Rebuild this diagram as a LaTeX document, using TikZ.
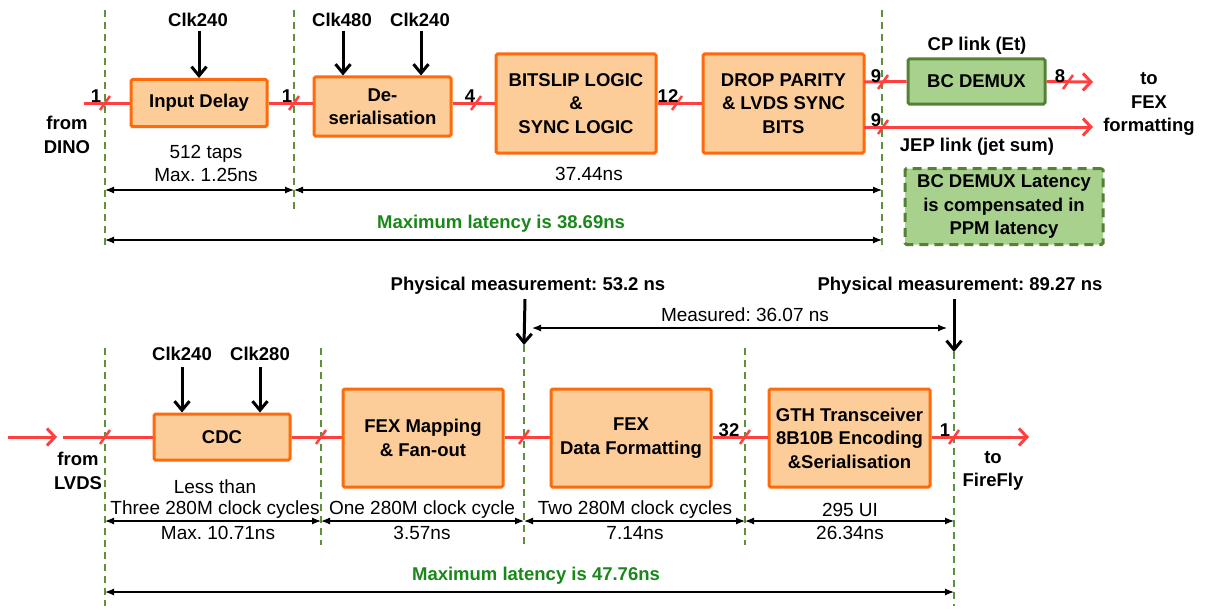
\documentclass[tikz,border=0pt]{standalone}
\usepackage{fontspec}
\setmainfont{Liberation Sans}
\usetikzlibrary{arrows.meta}
\frenchspacing
\definecolor{peach}{RGB}{252,204,153}
\definecolor{oedge}{RGB}{255,106,10}
\definecolor{gfill}{RGB}{169,209,142}
\definecolor{gedge}{RGB}{84,130,53}
\definecolor{sigred}{RGB}{255,64,64}
\definecolor{vgreen}{RGB}{95,145,60}
\definecolor{txtgreen}{RGB}{25,135,25}
\newcommand\bfs{\fontsize{18.5}{23.5}\selectfont\bfseries}
\newcommand\rfs{\fontsize{19}{23}\selectfont}
\newcommand\busmark[2]{\draw[bus] ({#1-5},{#2+7}) -- ({#1+5},{#2-7});}
\begin{document}
\begin{tikzpicture}[x=1pt,y=-1pt,
  every node/.style={inner sep=0pt},
  obox/.style={draw=oedge, fill=peach, line width=3pt, rounded corners=1.5pt, align=center, font=\bfs},
  gbox/.style={draw=gedge, fill=gfill, line width=3pt, rounded corners=1.5pt, align=center, font=\bfs},
  lbl/.style={align=center, font=\bfs},
  txt/.style={align=center, font=\rfs},
  sig/.style={draw=sigred, line width=3pt},
  sigarr/.style={sig, -{Straight Barb[length=8pt,width=17pt]}},
  clk/.style={draw=black, line width=3pt, -{Straight Barb[length=9pt,width=15pt]}},
  dim/.style={draw=black, line width=1.2pt, {Latex[length=9pt,width=7pt]}-{Latex[length=9pt,width=7pt]}},
  vline/.style={draw=vgreen, line width=2pt, dash pattern=on 7pt off 5pt},
  bus/.style={draw=sigred, line width=2.5pt},
]
\useasboundingbox (0,0) rectangle (1205,610);

% ---------- TOP ----------
\coordinate (t1a) at (105,10);  \coordinate (t1b) at (105,247);
\coordinate (t2a) at (294,10);  \coordinate (t2b) at (294,210);
\coordinate (t3a) at (882,10);  \coordinate (t3b) at (882,250);
\draw[vline] (t1a) -- (t1b);
\draw[vline] (t2a) -- (t2b);
\draw[vline] (t3a) -- (t3b);

\node[obox, minimum width=136pt, minimum height=47pt] (delay) at (199,103) {Input Delay};
\node[obox, minimum width=137pt, minimum height=59pt] (deser) at (382.5,106.5) {De-\\serialisation};
\node[obox, minimum width=160pt, minimum height=99pt] (bits) at (576,103.5) {BITSLIP LOGIC\\\&\\SYNC LOGIC};
\node[obox, minimum width=161pt, minimum height=99pt] (drop) at (783.5,103.5) {DROP PARITY\\\& LVDS SYNC\\BITS};
\node[gbox, minimum width=137pt, minimum height=45pt] (demux) at (976.5,81.5) {BC DEMUX};
\node[gbox, dash pattern=on 9pt off 6pt, minimum width=198pt, minimum height=76pt] (note) at (1004,206.5) {BC DEMUX Latency\\is compensated in\\PPM latency};

\coordinate (inT) at (84,103);
\draw[sig] (inT) -- (delay.west);
\draw[sig] (delay.east) -- (delay.east -| deser.west);
\draw[sig] (deser.east |- 0,103) -- (bits.west |- 0,103);
\draw[sig] (bits.east |- 0,103) -- (drop.west |- 0,103);
\coordinate (dropA) at (864,82);
\coordinate (dropB) at (864,127);
\coordinate (outA) at (1093,82);
\coordinate (outB) at (1093,127);
\draw[sig] (dropA) -- (demux.west);
\draw[sigarr] (demux.east) -- (outA);
\draw[sigarr] (dropB) -- (outB);
\busmark{105}{103}
\busmark{294}{103}
\busmark{476}{103}
\busmark{677}{103}
\busmark{883}{82}
\busmark{883}{127}
\busmark{1068}{82}

\node[lbl] (b1) at (96,96) {1};
\node[lbl] (b2) at (287,96) {1};
\node[lbl] (b3) at (470,96) {4};
\node[lbl] (b4) at (668,96) {12};
\node[lbl] (b5) at (876,76) {9};
\node[lbl] (b6) at (876,120) {9};
\node[lbl] (b7) at (1060,76) {8};

\node[lbl] (c1) at (198,20) {Clk240};
\node[lbl] (c2) at (342,20) {Clk480};
\node[lbl] (c3) at (420,20) {Clk240};
\draw[clk] (199,31) coordinate (c1s) -- (c1s |- delay.north);
\draw[clk] (343,31) coordinate (c2s) -- (c2s |- deser.north);
\draw[clk] (421,31) coordinate (c3s) -- (c3s |- deser.north);

\node[lbl] (dino) at (67,135) {from\\DINO};
\node[lbl] (cp) at (977,46) {CP link (Et)};
\node[lbl] (jep) at (977,147) {JEP link (jet sum)};
\node[lbl] (tofex) at (1149,104) {to\\FEX\\formatting};
\node[txt] (taps) at (206,163) {512 taps\\Max. 1.25ns};
\node[txt] (t37) at (589,174) {37.44ns};
\node[lbl, text=txtgreen] (maxT) at (501,224) {Maximum latency is 38.69ns};

\draw[dim] (t1a |- 0,190) -- (t2a |- 0,190);
\draw[dim] (t2a |- 0,190) -- (t3a |- 0,190);
\draw[dim] (t1a |- 0,240) -- (t3a |- 0,240);

% ---------- BOTTOM ----------
\coordinate (v1a) at (105,348); \coordinate (v1b) at (105,606);
\coordinate (v2a) at (321,348); \coordinate (v2b) at (321,545);
\coordinate (v3a) at (524,345); \coordinate (v3b) at (524,545);
\coordinate (v4a) at (745,348); \coordinate (v4b) at (745,545);
\coordinate (v5a) at (954,352); \coordinate (v5b) at (954,606);
\draw[vline] (v1a) -- (v1b);
\draw[vline] (v2a) -- (v2b);
\draw[vline] (v3a) -- (v3b);
\draw[vline] (v4a) -- (v4b);
\draw[vline] (v5a) -- (v5b);

\node[obox, minimum width=136pt, minimum height=46pt] (cdc) at (222,437) {CDC};
\node[obox, minimum width=160pt, minimum height=98pt] (map) at (423,438) {FEX Mapping\\\& Fan-out};
\node[obox, minimum width=160pt, minimum height=98pt] (fmt) at (631,438) {FEX\\Data Formatting};
\node[obox, minimum width=161pt, minimum height=98pt] (gth) at (849.5,438) {GTH Transceiver\\8B10B Encoding\\\&Serialisation};

\coordinate (lin0) at (8,437);
\coordinate (lin1) at (57,437);
\coordinate (lin2) at (63,437);
\coordinate (fire) at (1029,437);
\draw[sigarr] (lin0) -- (lin1);
\draw[sig] (lin2) -- (lin2 -| cdc.west);
\draw[sig] (cdc.east |- 0,437) -- (map.west |- 0,437);
\draw[sig] (map.east |- 0,437) -- (fmt.west |- 0,437);
\draw[sig] (fmt.east |- 0,437) -- (gth.west |- 0,437);
\draw[sigarr] (gth.east |- 0,437) -- (fire);
\busmark{105}{437}
\busmark{321}{437}
\busmark{524}{437}
\busmark{745}{437}
\busmark{954}{437}
\node[lbl] (b32) at (729,430) {32};
\node[lbl] (b1b) at (945,430) {1};

\node[lbl] (c4) at (182,354) {Clk240};
\node[lbl] (c5) at (260,354) {Clk280};
\draw[clk] (182,367) coordinate (c4s) -- (c4s |- cdc.north);
\draw[clk] (260,367) coordinate (c5s) -- (c5s |- cdc.north);

\node[lbl] (lvds) at (78,471) {from\\LVDS};
\node[lbl] (ff) at (993,471) {to\\FireFly};

\node[lbl] (pm1) at (528,286) {Physical measurement: 53.2 ns};
\node[lbl] (pm2) at (960,286) {Physical measurement: 89.27 ns};
\draw[clk] (525,299) -- (v3a);
\draw[clk] (954,299) -- (v5a);
\node[txt] (meas) at (745,315) {Measured: 36.07 ns};
\draw[dim] (532,328) coordinate (m1) -- (947,328) coordinate (m2);

\node[txt] (less) at (215,487) {Less than};
\node[txt] (three) at (215,510) {Three 280M clock cycles};
\node[txt] (max10) at (218,533) {Max. 10.71ns};
\node[txt] (one) at (422,510) {One 280M clock cycle};
\node[txt] (n357) at (422,533) {3.57ns};
\node[txt] (two) at (635,510) {Two 280M clock cycles};
\node[txt] (n714) at (635,533) {7.14ns};
\node[txt] (ui) at (850,510) {295 UI};
\node[txt] (n2634) at (850,533) {26.34ns};
\draw[dim] (v1a |- 0,521) -- (v2a |- 0,521);
\draw[dim] (v2a |- 0,521) -- (v3a |- 0,521);
\draw[dim] (v3a |- 0,521) -- (v4a |- 0,521);
\draw[dim] (v4a |- 0,521) -- (v5a |- 0,521);

\node[lbl, text=txtgreen] (maxB) at (536,576) {Maximum latency is 47.76ns};
\draw[dim] (v1a |- 0,592) -- (v5a |- 0,592);
\end{tikzpicture}
\end{document}
